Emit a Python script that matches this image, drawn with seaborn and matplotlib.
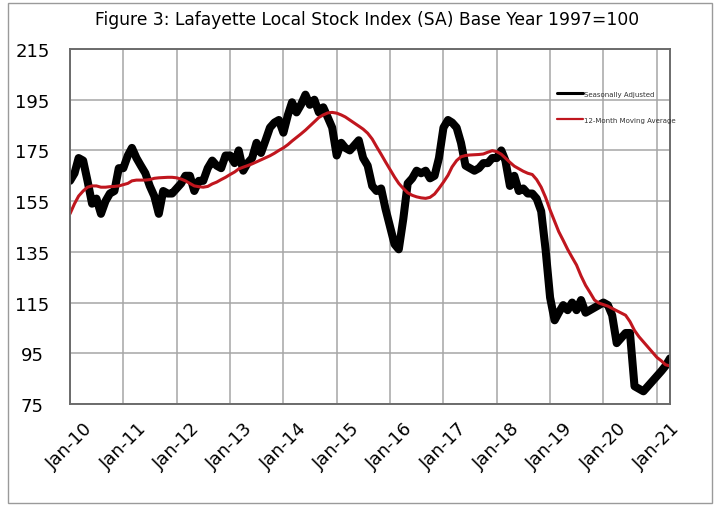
import numpy as np
import pandas as pd
import matplotlib
matplotlib.use("Agg")
import matplotlib.pyplot as plt
import matplotlib.dates as mdates
from matplotlib.patches import Rectangle
import seaborn as sns

# ---- data (monthly, Jan-2010 .. Apr-2021) ----
start_month = "2010-01-01"
seasonally_adjusted = [
    163, 166, 172, 171, 163, 154, 156, 150, 155, 158, 159, 168,   # 2010
    168, 173, 176, 172, 169, 166, 161, 157, 150, 159, 158, 158,   # 2011
    160, 162, 165, 165, 159, 163, 163, 168, 171, 169, 168, 173,   # 2012
    173, 170, 175, 167, 170, 172, 178, 174, 179, 184, 186, 187,   # 2013
    182, 189, 194, 190, 193, 197, 193, 195, 190, 192, 188, 184,   # 2014
    173, 178, 176, 175, 177, 179, 172, 169, 161, 159, 160, 152,   # 2015
    145, 138, 136, 148, 162, 164, 167, 166, 167, 164, 165, 172,   # 2016
    184, 187, 186, 184, 178, 169, 168, 167, 168, 170, 170, 172,   # 2017
    172, 175, 171, 161, 165, 159, 160, 158, 158, 156, 151, 136,   # 2018
    117, 108, 111, 114, 112, 115, 112, 116, 111, 112, 113, 114,   # 2019
    115, 114, 110, 99, 101, 103, 103, 82, 81, 80, 82, 84,         # 2020
    86, 88, 90, 93,                                               # 2021
]
moving_average_12m = [
    150, 154, 157, 159, 160.5, 161, 161, 160.5, 160.5, 160.7, 160.8, 161,
    161.5, 162, 163, 163.3, 163.3, 163.3, 163.5, 164, 164.2, 164.3, 164.4, 164.4,
    164.2, 163.7, 163, 162, 161, 160.7, 160.5, 160.8, 161.8, 162.5, 163.5, 164.4,
    165.5, 166.5, 167.7, 168.4, 169, 169.7, 170.5, 171.3, 172.1, 172.9, 173.9, 175,
    176, 177.3, 178.7, 180.1, 181.5, 183, 184.6, 186.3, 188, 189, 189.8, 190,
    189.7, 189, 188.2, 187, 185.8, 184.6, 183.4, 181.8, 179.5, 176.5, 173.5, 170.5,
    167.5, 164.5, 162, 160, 158.3, 157.3, 156.7, 156.3, 156.1, 156.5, 157.8, 160,
    162.5, 165.2, 168.5, 171, 172.5, 173, 173.2, 173.3, 173.4, 173.6, 174.3, 174.9,
    174.5, 173.5, 172, 170.3, 168.8, 167.8, 166.8, 166, 165.5, 163.5, 160.5, 156.5,
    151.5, 147, 143, 139.5, 136, 132.8, 129.8, 125.5, 121.8, 119, 116, 114.8,
    114.2, 113.6, 112.7, 111.8, 110.9, 110, 107.5, 104, 101.5, 99.5, 97.5, 95.5,
    93.4, 92, 90.5, 90,
]
y_ticks = [75, 95, 115, 135, 155, 175, 195, 215]
x_tick_years = list(range(2010, 2022))
title_text = "Figure 3: Lafayette Local Stock Index (SA) Base Year 1997=100"
label_sa = "Seasonally Adjusted"
label_ma = "12-Month Moving Average"

dates = pd.date_range(start_month, periods=len(seasonally_adjusted), freq="MS")
df = pd.DataFrame({"date": dates,
                   label_sa: seasonally_adjusted,
                   label_ma: moving_average_12m})

sns.set_theme(style="white")
plt.rcParams["font.family"] = ["DejaVu Sans"]

fig = plt.figure(figsize=(7.2, 5.06), dpi=100)
ax = fig.add_axes([70 / 720, 1 - 405 / 506, 600 / 720, 355 / 506])

sns.lineplot(data=df, x="date", y=label_sa, ax=ax, color="black",
             linewidth=5.8, label=label_sa, solid_joinstyle="round",
             solid_capstyle="round")
sns.lineplot(data=df, x="date", y=label_ma, ax=ax, color="#c0161e",
             linewidth=2.2, label=label_ma)

ax.set_xlim(pd.Timestamp("2010-01-01"), pd.Timestamp("2021-04-01"))
ax.set_ylim(75, 215)
ax.set_yticks(y_ticks)
ax.set_xticks([pd.Timestamp(f"{y}-01-01") for y in x_tick_years])
ax.xaxis.set_major_formatter(mdates.DateFormatter("%b-%y"))
ax.grid(True, color="#a6a6a6", linewidth=1.1)
ax.set_axisbelow(True)
for s in ax.spines.values():
    s.set_color("#6b6b6b")
    s.set_linewidth(1.4)
ax.set_xlabel("")
ax.set_ylabel("")
ax.tick_params(axis="y", length=0, pad=27, labelsize=13, colors="black")
ax.tick_params(axis="x", length=0, pad=11, labelsize=13, colors="black")
for lab in ax.get_yticklabels():
    lab.set_horizontalalignment("center")
for lab in ax.get_xticklabels():
    lab.set_rotation(45)
    lab.set_horizontalalignment("center")
    lab.set_verticalalignment("top")

leg = ax.legend(loc="upper left", bbox_to_anchor=(484 / 600, 1 - 39 / 355),
                frameon=False, fontsize=5, handlelength=3.8,
                handletextpad=0.1, labelspacing=2.9, borderaxespad=0)
for h in leg.get_lines():
    h.set_linewidth(2.2)
leg.get_lines()[1].set_linewidth(1.6)
for t in leg.get_texts():
    t.set_color("#333333")

fig.text(0.51, 1 - 20 / 506, title_text, ha="center", va="center",
         fontsize=12.3, color="black")

fig.patches.append(Rectangle((8 / 720, 2 / 506), 704 / 720, 500 / 506,
                             transform=fig.transFigure, fill=False,
                             edgecolor="#9a9a9a", linewidth=1.0))

fig.savefig("out.png", dpi=100)
